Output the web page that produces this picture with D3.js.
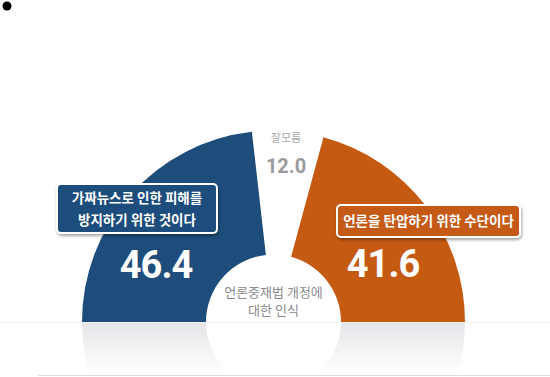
<!DOCTYPE html>
<meta charset="utf-8">
<style>
    body { margin: 0; background: #fff; }
    text { font-family: "Noto Sans CJK KR", "Noto Sans", sans-serif; }
    .num { font-family: Roboto, "Noto Sans", sans-serif; font-weight: 700; }
</style>
<body>
<script src="https://d3js.org/d3.v7.min.js"></script>
<script>
    var categories = ['가짜뉴스로 인한 피해를 방지하기 위한 것이다', '잘모름', '언론을 탄압하기 위한 수단이다'],
        values = [46.4, 12.0, 41.6],
        colors = ['#1e4d7b', 'none', '#c55a13'],
        boxLines = [['가짜뉴스로 인한 피해를', '방지하기 위한 것이다'], null, ['언론을 탄압하기 위한 수단이다']],
        centerLines = ['언론중재법 개정에', '대한 인식'];

    var width = 550, height = 377,
        cx = 273.5, cy = 322,
        outerR = 191.5, innerR = 67.5,
        reflH = 52;

    var svg = d3.select('body').append('svg')
        .attr('width', width)
        .attr('height', height);

    var defs = svg.append('defs');

    defs.append('clipPath').attr('id', 'reflClip')
        .append('rect').attr('x', 0).attr('y', cy).attr('width', width).attr('height', reflH);

    var fg = defs.append('linearGradient').attr('id', 'fadeWhite')
        .attr('x1', 0).attr('y1', 0).attr('x2', 0).attr('y2', 1);
    fg.append('stop').attr('offset', 0).attr('stop-color', '#fff').attr('stop-opacity', 0);
    fg.append('stop').attr('offset', 1).attr('stop-color', '#fff').attr('stop-opacity', 1);

    var shadow = defs.append('filter').attr('id', 'shadow')
        .attr('x', '-10%').attr('y', '-20%').attr('width', '120%').attr('height', '150%');
    shadow.append('feDropShadow').attr('dx', 1).attr('dy', 2).attr('stdDeviation', 1.5)
        .attr('flood-color', '#000').attr('flood-opacity', 0.35);

    // bullet
    svg.append('circle').attr('cx', 7).attr('cy', 6).attr('r', 4.5).attr('fill', '#000');

    var pie = d3.pie().sort(null)
        .startAngle(-Math.PI / 2).endAngle(Math.PI / 2);
    var arcs = pie(values);
    var arc = d3.arc().innerRadius(innerR).outerRadius(outerR);

    // faint reflection under the baseline
    svg.append('g')
        .attr('clip-path', 'url(#reflClip)')
        .append('g')
        .attr('transform', 'translate(' + cx + ',' + cy + ') scale(1,-1)')
        .selectAll('path')
        .data(arcs.filter(function(d, i) { return colors[i] !== 'none'; }))
        .enter().append('path')
        .attr('d', arc)
        .attr('fill', '#e3e5e8');
    svg.append('rect')
        .attr('x', 0).attr('y', cy).attr('width', width).attr('height', reflH)
        .attr('fill', 'url(#fadeWhite)');

    // baseline and bottom rule
    svg.append('line').attr('x1', 0).attr('x2', width).attr('y1', cy + 0.5).attr('y2', cy + 0.5)
        .attr('stroke', '#f0f0f0');
    svg.append('line').attr('x1', 38).attr('x2', width).attr('y1', 375.5).attr('y2', 375.5)
        .attr('stroke', '#dcdcdc');

    svg.append('g')
        .attr('transform', 'translate(' + cx + ',' + cy + ')')
        .selectAll('path.slice')
        .data(arcs)
        .enter().append('path')
        .attr('class', 'slice')
        .attr('d', arc)
        .attr('fill', function(d, i) { return colors[i]; });

    // values inside the coloured slices
    var numPos = [[156, 278], null, [383, 277]];
    values.forEach(function(v, i) {
        if (colors[i] === 'none') return;
        svg.append('text')
            .attr('class', 'num')
            .attr('x', numPos[i][0]).attr('y', numPos[i][1])
            .attr('text-anchor', 'middle')
            .attr('fill', '#fff')
            .attr('font-size', 38)
            .attr('letter-spacing', -1)
            .text(v.toFixed(1));
    });

    // 잘모름 in the gap
    svg.append('text')
        .attr('x', 286).attr('y', 142)
        .attr('text-anchor', 'middle')
        .attr('fill', '#a9a9a9')
        .attr('font-size', 11)
        .text(categories[1]);
    svg.append('text')
        .attr('class', 'num')
        .attr('x', 286).attr('y', 173)
        .attr('text-anchor', 'middle')
        .attr('fill', '#9a9a9a')
        .attr('font-size', 20)
        .text(values[1].toFixed(1));

    // label boxes
    var boxes = [
        {x: 57, y: 184, w: 160, h: 49},
        null,
        {x: 337, y: 205, w: 183, h: 32}
    ];
    boxes.forEach(function(b, i) {
        if (!b) return;
        svg.append('rect')
            .attr('x', b.x).attr('y', b.y).attr('width', b.w).attr('height', b.h)
            .attr('rx', 4)
            .attr('fill', colors[i])
            .attr('stroke', '#fff')
            .attr('stroke-width', 2)
            .attr('filter', 'url(#shadow)');
        var lines = boxLines[i], lh = 22;
        var y0 = b.y + b.h / 2 - (lines.length - 1) * lh / 2 + 5;
        lines.forEach(function(t, j) {
            svg.append('text')
                .attr('x', b.x + b.w / 2).attr('y', y0 + j * lh)
                .attr('text-anchor', 'middle')
                .attr('fill', '#fff')
                .attr('font-size', 13.5)
                .attr('font-weight', 700)
                .text(t);
        });
    });

    // center caption
    centerLines.forEach(function(t, j) {
        svg.append('text')
            .attr('x', cx).attr('y', 297 + j * 18)
            .attr('text-anchor', 'middle')
            .attr('fill', '#8a8a8a')
            .attr('font-size', 13)
            .text(t);
    });
</script>
</body>
